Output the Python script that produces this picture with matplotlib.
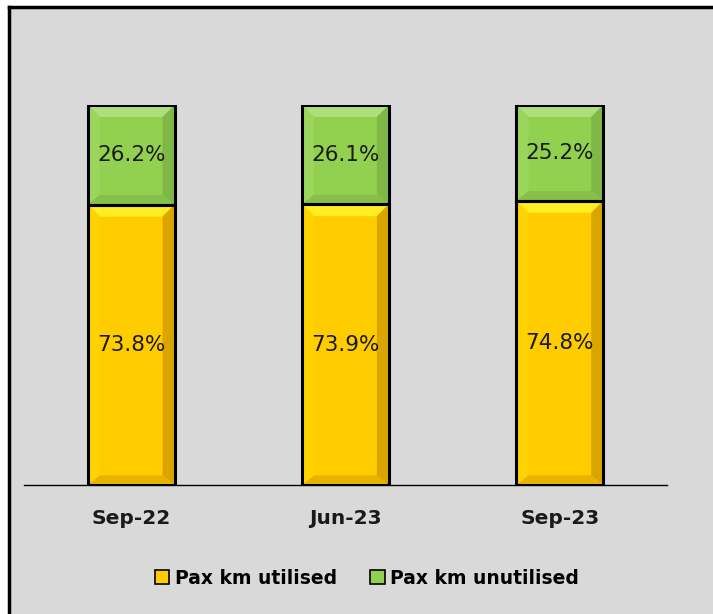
import matplotlib
matplotlib.use('Agg')
import matplotlib.pyplot as plt
import matplotlib.colors as mc
from matplotlib.patches import Rectangle, Polygon, Patch
from matplotlib.lines import Line2D

# Data
categories = ['Sep-22', 'Jun-23', 'Sep-23']
utilised = [73.8, 73.9, 74.8]
unutilised = [26.2, 26.1, 25.2]
series_names = ['Pax km utilised', 'Pax km unutilised']

YELLOW = '#ffcc00'
GREEN = '#92d050'
BG = '#d9d9d9'

# bevel face colours: top, left, right, bottom
BEVELS = {
    YELLOW: ['#ffee22', '#ffd200', '#dba500', '#e8b200'],
    GREEN: ['#acdf7c', '#9ad65c', '#7fb845', '#86c04a'],
}

W, H = 713, 614
fig = plt.figure(figsize=(W / 100, H / 100), dpi=100)
fig.patch.set_facecolor('white')

# gray chart area with black left/top border
bx, by = 9 / W, 1 - 7 / H
fig.add_artist(Rectangle((bx, 0), 1 - bx, by, transform=fig.transFigure,
                         facecolor=BG, edgecolor='none', zorder=0))
fig.add_artist(Line2D([bx, bx], [0, by], transform=fig.transFigure, color='black', lw=2.5))
fig.add_artist(Line2D([bx, 1], [by, by], transform=fig.transFigure, color='black', lw=2.5))

ax = fig.add_axes([24 / W, 1 - 485 / H, (667 - 24) / W, (485 - 105) / H])
ax.set_facecolor('none')
ax.set_xlim(-0.5, 2.5)
ax.set_ylim(0, 100)
for s in ['top', 'right', 'left']:
    ax.spines[s].set_visible(False)
ax.spines['bottom'].set_linewidth(1.0)
ax.set_yticks([])
ax.set_xticks(range(len(categories)))
ax.set_xticklabels(categories, fontsize=14.5, fontweight='bold', color='#1a1a1a')
ax.tick_params(axis='x', length=0, pad=17)

bar_w = 0.405
# bevel size in data units (~12 px)
bev_x = 12 / 214
bev_y = 12 / 3.8


def bevel_bar(x, y0, h, color):
    top, left, right, bottom = BEVELS[color]
    x0, x1 = x - bar_w / 2, x + bar_w / 2
    y1 = y0 + h
    ix0, ix1 = x0 + bev_x, x1 - bev_x
    iy0, iy1 = y0 + bev_y * 0.8, y1 - bev_y
    ax.add_patch(Rectangle((x0, y0), bar_w, h, facecolor=color, edgecolor='none', zorder=2))
    ax.add_patch(Polygon([(x0, y1), (x1, y1), (ix1, iy1), (ix0, iy1)],
                         facecolor=top, edgecolor='none', zorder=3))
    ax.add_patch(Polygon([(x0, y0), (x0, y1), (ix0, iy1), (ix0, iy0)],
                         facecolor=left, edgecolor='none', zorder=3))
    ax.add_patch(Polygon([(x1, y0), (x1, y1), (ix1, iy1), (ix1, iy0)],
                         facecolor=right, edgecolor='none', zorder=3))
    ax.add_patch(Polygon([(x0, y0), (x1, y0), (ix1, iy0), (ix0, iy0)],
                         facecolor=bottom, edgecolor='none', zorder=3))
    ax.add_patch(Rectangle((x0, y0), bar_w, h, facecolor='none', edgecolor='black',
                           lw=2.2, zorder=4))


for i, (u, n) in enumerate(zip(utilised, unutilised)):
    bevel_bar(i, 0, u, YELLOW)
    bevel_bar(i, u, n, GREEN)
    ax.text(i, u / 2, f'{u:.1f}%', ha='center', va='center', fontsize=15.5,
            color='#1a1a1a', zorder=5)
    ax.text(i, u + n / 2, f'{n:.1f}%', ha='center', va='center', fontsize=15.5,
            color='#1a1a1a', zorder=5)

handles = [Patch(facecolor=YELLOW, edgecolor='black', lw=1.2),
           Patch(facecolor=GREEN, edgecolor='black', lw=1.2)]
fig.legend(handles, series_names, loc='center', bbox_to_anchor=(367 / W, 1 - 578 / H),
           ncol=2, frameon=False, prop={'weight': 'bold', 'size': 13.5},
           handlelength=0.75, handleheight=0.75, handletextpad=0.3, columnspacing=1.8)

plt.savefig('out.png', dpi=100, facecolor=fig.get_facecolor())
